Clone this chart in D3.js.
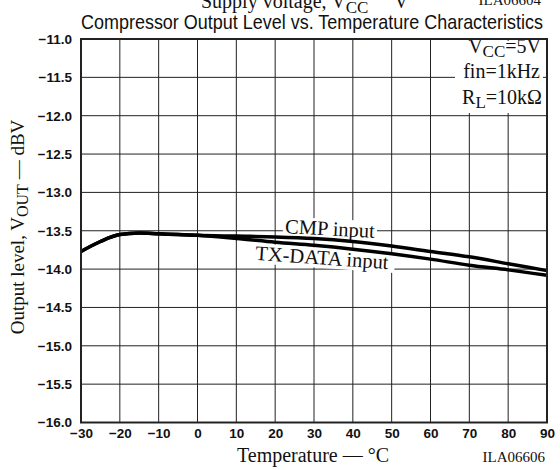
<!DOCTYPE html>
<html><head><meta charset="utf-8">
<script src="https://cdn.jsdelivr.net/npm/d3@7"></script>
<style>
html,body{margin:0;padding:0;background:#fff;}
svg{display:block;}
</style></head>
<body>
<svg id="chart" width="560" height="470"></svg>
<script>
// ---- data ----
const temps = [-30, -25, -20, -15, -10, -5, 0, 10, 20, 30, 40, 50, 60, 70, 80, 90];
const cmpInput = [-13.77, -13.64, -13.55, -13.53, -13.54, -13.55, -13.56, -13.57, -13.58, -13.60, -13.64, -13.70, -13.77, -13.84, -13.93, -14.02];
const txDataInput = [-13.77, -13.64, -13.55, -13.53, -13.54, -13.55, -13.56, -13.60, -13.65, -13.69, -13.74, -13.80, -13.87, -13.95, -14.01, -14.08];
const xTicks = [-30, -20, -10, 0, 10, 20, 30, 40, 50, 60, 70, 80, 90];
const yTicks = [-11.0, -11.5, -12.0, -12.5, -13.0, -13.5, -14.0, -14.5, -15.0, -15.5, -16.0];
const seriesNames = ["CMP input", "TX-DATA input"];

const svg = d3.select("#chart");
const L = 81, R = 547, T = 39, B = 422.5;
const x = d3.scaleLinear().domain([-30, 90]).range([L, R]);
const y = d3.scaleLinear().domain([-16, -11]).range([B, T]);
const serif = "'Liberation Serif','Times New Roman',serif";
const sans = "'Liberation Sans',Arial,sans-serif";

// clipped header remnants
const hdr = svg.append("g").attr("font-family", serif).attr("font-size", 20).attr("fill", "#111");
const h1 = hdr.append("text").attr("x", 201).attr("y", 8);
h1.append("tspan").text("Supply voltage, V");
h1.append("tspan").attr("dy", 5).attr("font-size", 17).text("CC");
hdr.append("text").attr("x", 394).attr("y", 8).text("V");
svg.append("text").attr("x", 541).attr("y", 5).attr("text-anchor", "end").attr("font-family", serif).attr("font-size", 15).attr("fill", "#111").text("ILA06604");

// title
svg.append("text").attr("x", 312).attr("y", 29).attr("text-anchor", "middle")
  .attr("font-family", "'Liberation Sans Narrow','Arial Narrow'," + sans).attr("font-size", 21)
  .attr("textLength", 462).attr("lengthAdjust", "spacingAndGlyphs").attr("fill", "#111")
  .text("Compressor Output Level vs. Temperature Characteristics");

// grid
const g = svg.append("g");
g.selectAll(".vg").data(xTicks).join("line")
  .attr("x1", d => x(d)).attr("x2", d => x(d)).attr("y1", T).attr("y2", B)
  .attr("stroke", "#222").attr("stroke-width", 1);
g.selectAll(".hg").data(yTicks).join("line")
  .attr("x1", L).attr("x2", R).attr("y1", d => y(d)).attr("y2", d => y(d))
  .attr("stroke", "#222").attr("stroke-width", 1);

// axes (labels only)
const fmt = d3.format(".1f");
const yAxis = svg.append("g").attr("transform", `translate(${L},0)`)
  .call(d3.axisLeft(y).tickValues(yTicks).tickFormat(fmt).tickSize(0).tickPadding(9));
const xAxis = svg.append("g").attr("transform", `translate(0,${B})`)
  .call(d3.axisBottom(x).tickValues(xTicks).tickFormat(d3.format("d")).tickSize(0).tickPadding(6));
[yAxis, xAxis].forEach(a => {
  a.select(".domain").remove();
  a.selectAll("text").attr("font-family", sans).attr("font-size", 13.5).attr("font-weight", "bold").attr("fill", "#111");
});

// legend conditions box
svg.append("rect").attr("x", 455).attr("y", 41).attr("width", 88).attr("height", 72).attr("fill", "#fff");
const cond = svg.append("g").attr("font-family", serif).attr("font-size", 20).attr("fill", "#111").attr("text-anchor", "end");
const c1 = cond.append("text").attr("x", 541).attr("y", 53);
c1.append("tspan").text("V");
c1.append("tspan").attr("dy", 4).attr("font-size", 17).text("CC");
c1.append("tspan").attr("dy", -4).text("=5V");
cond.append("text").attr("x", 540).attr("y", 78).text("fin=1kHz");
const c3 = cond.append("text").attr("x", 542).attr("y", 104);
c3.append("tspan").text("R");
c3.append("tspan").attr("dy", 4).attr("font-size", 17).text("L");
c3.append("tspan").attr("dy", -4).text("=10k\u03A9");

// series labels with white backgrounds
function label(text, cx, cy, ang, w, h) {
  const lg = svg.append("g").attr("transform", `translate(${cx},${cy}) rotate(${ang})`);
  lg.append("rect").attr("x", -w / 2).attr("y", -h / 2).attr("width", w).attr("height", h).attr("fill", "#fff");
  lg.append("text").attr("x", 0).attr("y", 6.5).attr("text-anchor", "middle")
    .attr("font-family", serif).attr("font-size", 20.5).attr("fill", "#111").text(text);
}
label(seriesNames[0], 330, 229, 3, 94, 20);
label(seriesNames[1], 322, 258, 4, 146, 20);

// curves
const line = d3.line().x((d, i) => x(temps[i])).y(d => y(d)).curve(d3.curveMonotoneX);
[cmpInput, txDataInput].forEach(s => {
  svg.append("path").datum(s).attr("d", line).attr("fill", "none")
    .attr("stroke", "#000").attr("stroke-width", 3.5).attr("stroke-linejoin", "round");
});

// frame
svg.append("rect").attr("x", L).attr("y", T).attr("width", R - L).attr("height", B - T)
  .attr("fill", "none").attr("stroke", "#222").attr("stroke-width", 2);

// axis titles
const yt = svg.append("text").attr("transform", `translate(24,${227}) rotate(-90)`)
  .attr("text-anchor", "middle").attr("font-family", serif).attr("font-size", 19).attr("fill", "#111");
yt.append("tspan").text("Output level, V");
yt.append("tspan").attr("dy", 4).attr("font-size", 16).text("OUT");
yt.append("tspan").attr("dy", -4).text(" \u2014 dBV");

svg.append("text").attr("x", 313).attr("y", 462).attr("text-anchor", "middle")
  .attr("font-family", serif).attr("font-size", 20).attr("fill", "#111").text("Temperature \u2014 \u00B0C");
svg.append("text").attr("x", 545).attr("y", 462).attr("text-anchor", "end")
  .attr("font-family", serif).attr("font-size", 15).attr("fill", "#111").text("ILA06606");
</script>
</body></html>
